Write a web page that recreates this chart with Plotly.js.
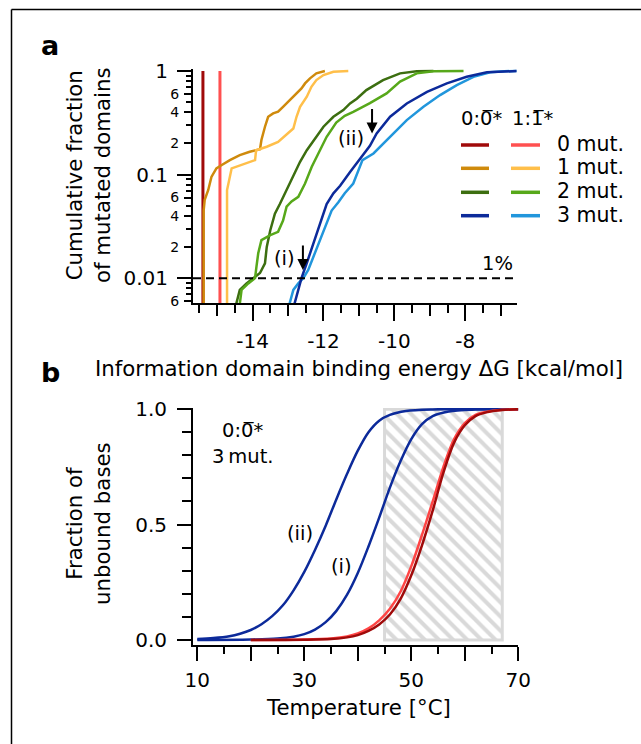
<!DOCTYPE html>
<html>
<head>
<meta charset="utf-8">
<script src="https://cdn.plot.ly/plotly-3.0.1.min.js"></script>
<style>html,body{margin:0;padding:0;background:#fff;}#plot{width:641px;height:744px;}</style>
</head>
<body>
<div id="plot"></div>
<script>
// ---------- Panel a: cumulative fraction vs binding energy ----------
const dG_mut0_00 = [-15.40, -15.40];
const F_mut0_00 = [0.004, 1.0];
const dG_mut0_11 = [-14.92, -14.92];
const F_mut0_11 = [0.004, 1.0];

const dG_mut1_00 = [-15.38, -15.38, -15.35, -15.25, -15.16, -15.02, -14.88, -14.64, -14.36, -14.08, -13.79, -13.75, -13.65, -13.56, -13.42, -13.28, -13.14, -12.95, -12.76, -12.62, -12.52, -12.38, -12.2, -11.96];
const F_mut1_00 = [0.004, 0.045, 0.057, 0.071, 0.095, 0.115, 0.123, 0.138, 0.154, 0.166, 0.176, 0.216, 0.29, 0.362, 0.39, 0.405, 0.452, 0.525, 0.609, 0.68, 0.76, 0.85, 0.95, 1.0];

const dG_mut1_11 = [-14.72, -14.72, -14.59, -13.93, -13.90, -13.6, -13.28, -13.14, -12.85, -12.76, -12.66, -12.47, -12.34, -12.2, -12.0, -11.72, -11.3];
const F_mut1_11 = [0.004, 0.071, 0.115, 0.138, 0.172, 0.186, 0.207, 0.229, 0.279, 0.362, 0.452, 0.565, 0.705, 0.818, 0.915, 0.985, 1.0];

const dG_mut2_00 = [-14.5, -14.36, -14.17, -13.98, -13.79, -13.65, -13.6, -13.5, -13.37, -13.23, -13.04, -12.85, -12.66, -12.47, -12.24, -12.0, -11.72, -11.44, -11.25, -11.06, -10.79, -10.32, -9.84, -9.37, -8.9];
const F_mut2_00 = [0.005, 0.0077, 0.0089, 0.010, 0.0112, 0.0139, 0.020, 0.029, 0.042, 0.052, 0.071, 0.099, 0.133, 0.172, 0.224, 0.29, 0.362, 0.42, 0.487, 0.54, 0.655, 0.818, 0.95, 0.995, 1.0];

const dG_mut2_11 = [-14.38, -14.31, -14.12, -13.93, -13.89, -13.84, -13.75, -13.5, -13.28, -13.14, -13.04, -12.9, -12.71, -12.52, -12.33, -12.15, -11.91, -11.64, -11.4, -11.16, -10.87, -10.69, -10.22, -9.84, -9.37, -8.9, -8.05];
const F_mut2_11 = [0.005, 0.0077, 0.0089, 0.010, 0.0129, 0.0174, 0.0233, 0.026, 0.028, 0.036, 0.049, 0.055, 0.061, 0.082, 0.119, 0.16, 0.232, 0.318, 0.37, 0.404, 0.452, 0.49, 0.609, 0.79, 0.95, 0.995, 1.0];

const dG_mut3_00 = [-12.86, -12.71, -12.62, -12.47, -12.29, -12.1, -11.91, -11.72, -11.53, -11.25, -10.97, -10.69, -10.5, -10.12, -9.65, -9.08, -8.52, -7.96, -7.39, -6.9, -6.55];
const F_mut3_00 = [0.005, 0.0077, 0.010, 0.014, 0.0217, 0.034, 0.052, 0.066, 0.078, 0.106, 0.143, 0.19, 0.25, 0.362, 0.487, 0.63, 0.76, 0.88, 0.975, 0.998, 1.0];

const dG_mut3_11 = [-13.0, -12.85, -12.71, -12.57, -12.43, -12.24, -12.0, -11.77, -11.58, -11.4, -11.16, -10.9, -10.59, -10.12, -9.65, -9.18, -8.71, -8.24, -7.77, -7.3, -6.9, -6.55];
const F_mut3_11 = [0.005, 0.0077, 0.0089, 0.010, 0.012, 0.0174, 0.029, 0.045, 0.054, 0.066, 0.082, 0.138, 0.16, 0.232, 0.336, 0.452, 0.586, 0.732, 0.88, 0.975, 0.998, 1.0];

const xRangeA = [-15.68, -6.55];
const thresholdFrac = [0.01, 0.01];
const arrowI = [-12.58, 0.012];
const arrowII = [-10.63, 0.25];

const xTicksA = [-14, -12, -10, -8];
const xTickTextA = ['-14', '-12', '-10', '-8'];
const xMedTicksA = [-15, -13, -11, -9, -7];
const xMinorTicksA = [-15.5, -14.5, -13.5, -12.5, -11.5, -10.5, -9.5, -8.5, -7.5];
const yTicksA = [0.01, 0.1, 1];
const yTickTextA = ['0.01', '0.1', '1'];
const yMedTicksA = [0.006, 0.02, 0.04, 0.06, 0.2, 0.4, 0.6];
const yMedTextA = ['6', '2', '4', '6', '2', '4', '6'];
const yMinorTicksA = [0.007, 0.008, 0.009, 0.03, 0.05, 0.07, 0.08, 0.09, 0.3, 0.5, 0.7, 0.8, 0.9];

const legendLabels = ['0 mut.', '1 mut.', '2 mut.', '3 mut.'];
const legendHeaders = ['0:0\u0305*', '1:1\u0305*'];
const colDark = ['#a00a0a', '#cf8a0c', '#3c6e10', '#0c2a9a'];
const colLight = ['#ff5050', '#ffbf4a', '#57a81a', '#2196dc'];

// ---------- Panel b: fraction of unbound bases vs temperature ----------
const T_ii = [10, 13, 16, 18, 20, 22, 24, 26, 28, 30, 32, 34, 36, 38, 40, 42, 44, 46, 49, 54, 70];
const f_ii = [0.004, 0.008, 0.016, 0.027, 0.043, 0.068, 0.103, 0.15, 0.215, 0.295, 0.39, 0.495, 0.61, 0.72, 0.82, 0.9, 0.95, 0.975, 0.992, 0.999, 1.0];
const T_i = [10, 20, 25, 28, 30, 32, 34, 36, 38, 40, 42, 44, 46, 48, 50, 52, 54, 57, 62, 70];
const f_i = [0.0, 0.002, 0.006, 0.014, 0.025, 0.045, 0.077, 0.126, 0.196, 0.29, 0.405, 0.53, 0.66, 0.775, 0.87, 0.935, 0.97, 0.99, 0.998, 1.0];
const T_red = [20, 30, 35, 38, 40, 42, 44, 46, 48, 50, 52, 54, 56, 58, 60, 62, 64, 67, 70];
const f_red00 = [0.0, 0.001, 0.004, 0.011, 0.021, 0.039, 0.067, 0.11, 0.178, 0.28, 0.41, 0.56, 0.725, 0.855, 0.93, 0.97, 0.986, 0.996, 1.0];
const f_red11 = [0.0, 0.0015, 0.006, 0.015, 0.028, 0.05, 0.085, 0.135, 0.21, 0.32, 0.455, 0.6, 0.75, 0.87, 0.94, 0.975, 0.988, 0.997, 1.0];
const hatchRange = [45, 67];

const xTicksB = [10, 20, 30, 40, 50, 60, 70];
const xTickTextB = ['10', '', '30', '', '50', '', '70'];
const xMinorB = [15, 25, 35, 45, 55, 65];
const yTicksB = [0, 0.5, 1.0];
const yTickTextB = ['0.0', '0.5', '1.0'];

// ---------- helpers ----------
const W = 641, H = 744;
const px = x => x / W;
const py = y => 1 - y / H;
const FONT = 'DejaVu Sans';
const blue = '#0c2a9a';

function line(x, y, color, xa, ya, w, shape, dash) {
  return {type: 'scatter', mode: 'lines', x: x, y: y, xaxis: xa, yaxis: ya,
    line: {color: color, width: w || 2.5, shape: shape || 'linear', smoothing: 0.9, dash: dash || 'solid'},
    hoverinfo: 'skip', showlegend: false};
}

const traces = [
  line(dG_mut0_00, F_mut0_00, colDark[0], 'x', 'y', 3),
  line(dG_mut0_11, F_mut0_11, colLight[0], 'x', 'y', 3),
  line(dG_mut1_00, F_mut1_00, colDark[1], 'x', 'y'),
  line(dG_mut1_11, F_mut1_11, colLight[1], 'x', 'y'),
  line(dG_mut2_00, F_mut2_00, colDark[2], 'x', 'y'),
  line(dG_mut2_11, F_mut2_11, colLight[2], 'x', 'y'),
  line(dG_mut3_11, F_mut3_11, colLight[3], 'x', 'y'),
  line(dG_mut3_00, F_mut3_00, colDark[3], 'x', 'y'),
  line(xRangeA, thresholdFrac, 'black', 'x', 'y', 2, 'linear', '8px,5px'),
  // dummy trace for overlay axes
  {type: 'scatter', mode: 'lines', x: [null], y: [null], xaxis: 'x3', yaxis: 'y3', showlegend: false, hoverinfo: 'skip'},
  // panel b
  {type: 'bar', x: [(hatchRange[0] + hatchRange[1]) / 2], y: [1], width: [hatchRange[1] - hatchRange[0]],
    xaxis: 'x2', yaxis: 'y2', showlegend: false, hoverinfo: 'skip',
    marker: {color: 'white', line: {color: '#d9d9d9', width: 3},
      pattern: {shape: '\\', fgcolor: '#d9d9d9', bgcolor: 'white', size: 10, solidity: 0.4}}},
  line(T_ii, f_ii, blue, 'x2', 'y2', 2.5, 'spline'),
  line(T_i, f_i, blue, 'x2', 'y2', 2.5, 'spline'),
  line(T_red, f_red11, '#ff4545', 'x2', 'y2', 2.5, 'spline'),
  line(T_red, f_red00, '#a00a0a', 'x2', 'y2', 2.5, 'spline'),
];

const axCommon = {showgrid: false, zeroline: false, ticks: 'outside', tickwidth: 2, tickcolor: 'black',
  linecolor: 'black', linewidth: 2, tickfont: {family: FONT, size: 20, color: 'black'}};

const layout = {
  width: W, height: H, margin: {l: 0, r: 0, t: 0, b: 0},
  paper_bgcolor: 'white', plot_bgcolor: 'rgba(0,0,0,0)', showlegend: false, hovermode: false,
  font: {family: FONT, color: 'black'},
  barmode: 'overlay',
  xaxis: Object.assign({}, axCommon, {domain: [px(193), px(516.7)], anchor: 'y', range: xRangeA,
    showline: true, tickmode: 'array', tickvals: xTicksA, ticktext: xTickTextA, ticklen: 16, ticklabelstandoff: 3,
    minor: {tickmode: 'array', tickvals: xMinorTicksA, ticklen: 8, tickwidth: 2, tickcolor: 'black', ticks: 'outside'}}),
  xaxis3: Object.assign({}, axCommon, {overlaying: 'x', anchor: 'y', side: 'bottom', range: xRangeA,
    showline: false, tickmode: 'array', tickvals: xMedTicksA, ticklen: 12, showticklabels: false}),
  yaxis: Object.assign({}, axCommon, {domain: [py(303), py(69)], anchor: 'x', type: 'log', range: [-2.24, 0.02],
    showline: true, tickmode: 'array', tickvals: yTicksA, ticktext: yTickTextA, ticklen: 14, ticklabelstandoff: 5,
    minor: {tickmode: 'array', tickvals: yMinorTicksA, ticklen: 5, tickwidth: 2, tickcolor: 'black', ticks: 'outside'}}),
  yaxis3: Object.assign({}, axCommon, {overlaying: 'y', anchor: 'x', side: 'left', type: 'log', range: [-2.24, 0.02],
    showline: false, tickmode: 'array', tickvals: yMedTicksA, ticktext: yMedTextA, ticklen: 8,
    tickfont: {family: FONT, size: 14, color: 'black'}, ticklabelstandoff: 2}),
  xaxis2: Object.assign({}, axCommon, {domain: [px(193), px(518.3)], anchor: 'y2', range: [9.2, 70],
    showline: true, tickmode: 'array', tickvals: xTicksB, ticktext: xTickTextB, ticklen: 14, ticklabelstandoff: 2,
    minor: {tickmode: 'array', tickvals: xMinorB, ticklen: 7, tickwidth: 2, tickcolor: 'black', ticks: 'outside'}}),
  yaxis2: Object.assign({}, axCommon, {domain: [py(645), py(408)], anchor: 'x2', range: [-0.022, 1.005],
    showline: true, tickmode: 'array', tickvals: yTicksB, ticktext: yTickTextB, ticklen: 14, ticklabelstandoff: 6,
    minor: {dtick: 0.1, tick0: 0, ticklen: 9, tickwidth: 2, tickcolor: 'black', ticks: 'outside'}}),
  shapes: [],
  annotations: []
};

// frame
layout.shapes.push({type: 'line', xref: 'paper', yref: 'paper', x0: px(11.5), x1: px(11.5), y0: 0, y1: py(9.5), line: {color: 'black', width: 1.5}});
layout.shapes.push({type: 'line', xref: 'paper', yref: 'paper', x0: px(11.5), x1: 1, y0: py(9.5), y1: py(9.5), line: {color: 'black', width: 1.5}});
// legend keys
const legRows = [145, 168.3, 192.3, 215.7];
legendLabels.forEach((lab, i) => {
  layout.shapes.push({type: 'line', xref: 'paper', yref: 'paper', x0: px(461), x1: px(489), y0: py(legRows[i]), y1: py(legRows[i]), line: {color: colDark[i], width: 3.5}});
  layout.shapes.push({type: 'line', xref: 'paper', yref: 'paper', x0: px(511), x1: px(540), y0: py(legRows[i]), y1: py(legRows[i]), line: {color: colLight[i], width: 3.5}});
  layout.annotations.push({xref: 'paper', yref: 'paper', x: px(555), y: py(legRows[i] - 1), xanchor: 'left', yanchor: 'middle', showarrow: false, text: lab, font: {family: FONT, size: 20.5, color: 'black'}});
});
layout.annotations.push({xref: 'paper', yref: 'paper', x: px(459), y: py(119), xanchor: 'left', yanchor: 'middle', showarrow: false, text: legendHeaders[0], font: {family: FONT, size: 19.5, color: 'black'}});
layout.annotations.push({xref: 'paper', yref: 'paper', x: px(510), y: py(119), xanchor: 'left', yanchor: 'middle', showarrow: false, text: legendHeaders[1], font: {family: FONT, size: 19.5, color: 'black'}});

function txt(x, y, t, size, extra) {
  return Object.assign({xref: 'paper', yref: 'paper', x: px(x), y: py(y), xanchor: 'center', yanchor: 'middle', showarrow: false, text: t,
    font: {family: FONT, size: size, color: 'black'}}, extra || {});
}
// panel letters
layout.annotations.push(txt(50, 46, '<b>a</b>', 27));
layout.annotations.push(txt(50, 372, '<b>b</b>', 27));
// axis titles
layout.annotations.push(txt(359, 368, 'Information domain binding energy \u0394G [kcal/mol]', 21.3));
layout.annotations.push(txt(88, 175, 'Cumulative fraction<br>of mutated domains', 21.3, {textangle: -90}));
layout.annotations.push(txt(358, 707, 'Temperature [\u00b0C]', 21.3));
layout.annotations.push(txt(88, 524, 'Fraction of<br>unbound bases', 21.3, {textangle: -90}));
// panel a labels
layout.annotations.push(txt(284, 258, '(i)', 19.5));
layout.annotations.push(txt(350.5, 138, '(ii)', 19.5));
layout.annotations.push(txt(497.5, 263, '1%', 19.5));
layout.annotations.push({xref: 'x', yref: 'y', x: arrowI[0], y: Math.log10(arrowI[1]), ax: 0, ay: -26, showarrow: true, text: '', arrowhead: 2, arrowsize: 1.1, arrowwidth: 2, arrowcolor: 'black'});
layout.annotations.push({xref: 'x', yref: 'y', x: arrowII[0], y: Math.log10(arrowII[1]), ax: 0, ay: -26, showarrow: true, text: '', arrowhead: 2, arrowsize: 1.1, arrowwidth: 2, arrowcolor: 'black'});
// panel b labels
layout.annotations.push(txt(242.5, 430, '0:0\u0305*', 19.5));
layout.annotations.push(txt(242.5, 456, '3\u2009mut.', 19.5));
layout.annotations.push(txt(300, 533, '(ii)', 19.5));
layout.annotations.push(txt(341.7, 566, '(i)', 19.5));

Plotly.newPlot('plot', traces, layout, {staticPlot: true, displayModeBar: false});
</script>
</body>
</html>
